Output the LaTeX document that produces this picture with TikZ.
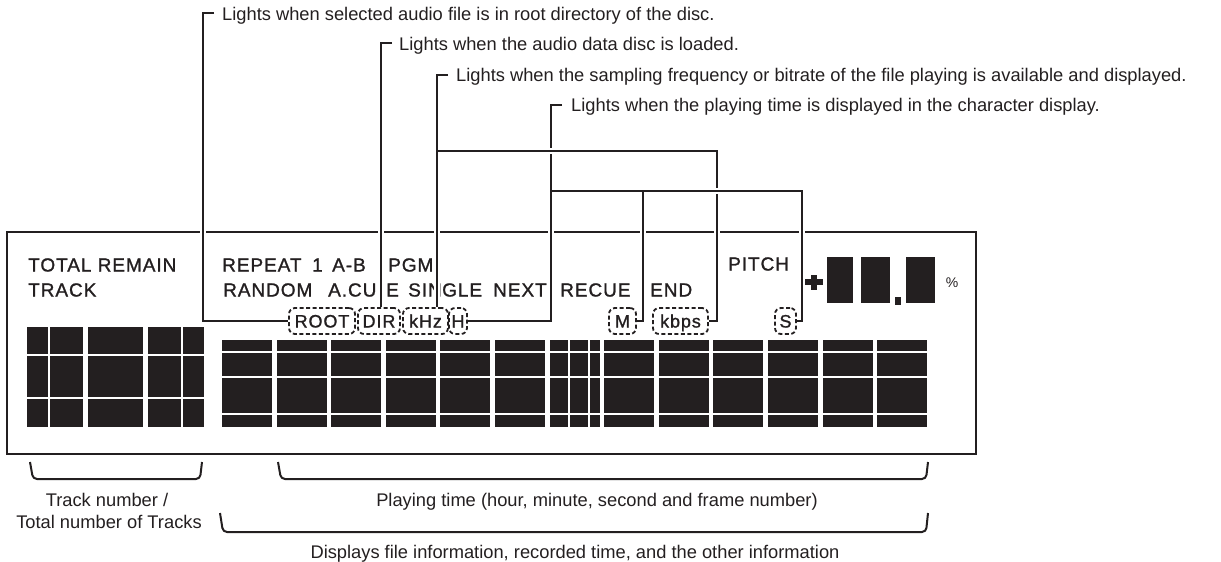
\documentclass[tikz,border=0pt]{standalone}
\usepackage{fontspec}
\setmainfont{Liberation Sans}
\newfontfamily\lcdfont[LetterSpace=5,FakeBold=1.2]{Liberation Sans}
\usetikzlibrary{positioning,calc}
\definecolor{ink}{HTML}{231F20}

\begin{document}
\begin{tikzpicture}[
    x=1pt, y=-1pt,
    every node/.style={inner sep=0pt, text=ink},
    note/.style={font=\fontsize{18.3}{20}\selectfont, anchor=base west},
    caption/.style={font=\fontsize{18.3}{20}\selectfont, anchor=base},
    lcdtext/.style={font=\lcdfont\fontsize{19}{20}\selectfont, anchor=west},
    flag/.style={
        draw=ink,
        dash pattern=on 4pt off 2.5pt,
        line width=1.8pt,
        rounded corners=6pt,
        minimum height=26pt,
        text height=13pt,
        text depth=0pt,
        font=\lcdfont\fontsize{18}{20}\selectfont,
    },
    frame/.style={draw=ink, line width=2.2pt},
    seg/.style={draw=white, line width=1.5pt},
    leader/.style={draw=ink, line width=2.2pt, preaction={draw=white, line width=6pt}},
    branch/.style={draw=ink, line width=2.2pt, preaction={draw=white, line width=6pt, shorten <=4pt}},
    bracket/.style={draw=ink, line width=2pt, rounded corners=4pt},
]
\useasboundingbox (0,0) rectangle (1221,562);

% === Display frame ===
\draw[frame] (7,232) rectangle (976,454);

% === Display words ===
\node[lcdtext] (total) at (28,265) {TOTAL REMAIN};
\node[lcdtext] (track) at (28,290) {TRACK};
\node[lcdtext] (repeat) at (222,265) {REPEAT};
\node[lcdtext] (one) at (312,265) {1};
\node[lcdtext] (ab) at (332,265) {A-B};
\node[lcdtext] (pgm) at (388,265) {PGM};
\node[lcdtext] (pitch) at (728,264) {PITCH};
\node[lcdtext] (random) at (223,290) {RANDOM};
\node[lcdtext] (acu) at (328,290) {A.CU};
\node[lcdtext] (acue) at (386,290) {E};
\node[lcdtext] (sin) at (408,290) {SIN};
\node[lcdtext] (gle) at (442,290) {GLE};
\node[lcdtext] (next) at (493,290) {NEXT};
\node[lcdtext] (recue) at (560,290) {RECUE};
\node[lcdtext] (end) at (650,290) {END};
\node[font=\fontsize{14}{16}\selectfont] (pct) at (952,283) {\%};

% === Track digits ===
\fill[ink] (27,327) rectangle (83,427);
\fill[ink] (88,327) rectangle (143,427);
\fill[ink] (148,327) rectangle (204,427);
\draw[seg] (27,355) -- (204,355);
\draw[seg] (27,398) -- (204,398);
\draw[seg] (49,327) -- (49,427);
\draw[seg] (182,327) -- (182,427);

% === Time digits ===
\foreach \i in {0,...,12}
    \fill[ink] ({222+54.6*\i},340) rectangle ++(50,87);
\foreach \y in {352,377,414}
    \draw[seg] (222,\y) -- (928,\y);
\draw[seg] (569,340) -- (569,427);
\draw[seg] (589,340) -- (589,427);

% === Pitch digits ===
\fill[ink] (805,279) rectangle (823,285);
\fill[ink] (811,275) rectangle (817,290);
\fill[ink] (827,257) rectangle (853,303);
\fill[ink] (861,257) rectangle (890,303);
\fill[ink] (895,297) rectangle (901,305);
\fill[ink] (906,257) rectangle (935,303);

% === Indicators ===
\node[flag, minimum width=66pt] (root) at (322,321) {ROOT};
\node[flag, minimum width=42pt] (dir) at (379,321) {DIR};
\node[flag, minimum width=45pt] (khz) at (425.5,321) {kHz};
\node[flag, minimum width=18pt] (hz) at (458,321) {H};
\node[flag, minimum width=27pt] (mm) at (622.5,321) {M};
\node[flag, minimum width=55pt] (kbps) at (680.5,321) {kbps};
\node[flag, minimum width=21pt] (ss) at (785.5,321) {S};

% === Notes ===
\node[note] (lbl1) at (222,20) {Lights when selected audio file is in root directory of the disc.};
\node[note] (lbl2) at (399,50) {Lights when the audio data disc is loaded.};
\node[note] (lbl3) at (456,81.5) {Lights when the sampling frequency or bitrate of the file playing is available and displayed.};
\node[note] (lbl4) at (571,111.5) {Lights when the playing time is displayed in the character display.};

% === Leaders ===
\coordinate (k1) at (203,13);
\coordinate (k2) at (381,43);
\coordinate (k3) at (437,75);
\coordinate (k4) at (551,105);
\coordinate (j3) at (437,151);
\coordinate (j4) at (551,191);
\coordinate (m4) at ($(mm.east)+(6,0)$);

\draw[leader] ($(k1)+(11,0)$) -- (k1) |- (root.west);
\draw[leader] ($(k2)+(11,0)$) -- (k2) -- (k2 |- dir.north);
\draw[leader] ($(k4)+(11,0)$) -- (k4) |- (hz.east);
\draw[leader] ($(k3)+(11,0)$) -- (k3) -- (k3 |- khz.north);
\draw[branch] (j3) -| ($(kbps.east)+(8,0)$) -- (kbps.east);
\draw[branch] (j4) -| ($(ss.east)+(5,0)$) -- (ss.east);
\draw[branch] (m4 |- j4) -- (m4) -- (mm.east);

% === Brackets ===
\draw[bracket] (30,462) -- (33,479) -- (200,479) -- (202,462);
\draw[bracket] (278,462) -- (281,479) -- (926,479) -- (928,462);
\draw[bracket] (220,513) -- (223,532) -- (926,532) -- (928,513);

\node[caption] (cap1) at (107,506.5) {Track number /};
\node[caption] (cap2) at (109,528.5) {Total number of Tracks};
\node[caption] (cap3) at (597,506.5) {Playing time (hour, minute, second and frame number)};
\node[caption] (cap4) at (575,558.5) {Displays file information, recorded time, and the other information};

\end{tikzpicture}
\end{document}
